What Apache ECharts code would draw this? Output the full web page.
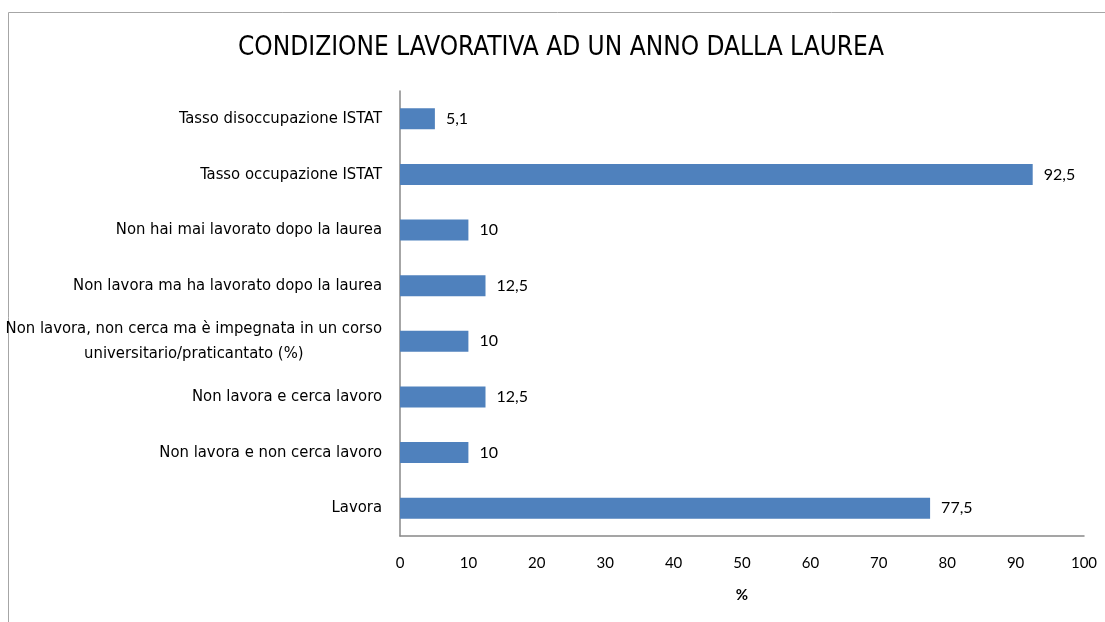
<!DOCTYPE html>
<html>
<head>
<meta charset="utf-8">
<script src="https://cdn.jsdelivr.net/npm/echarts@6/dist/echarts.min.js"></script>
<style>
html,body{margin:0;padding:0;background:#fff;}
#chart{width:1105px;height:622px;}
</style>
</head>
<body>
<div id="chart"></div>
<script>
var titleText = 'CONDIZIONE LAVORATIVA AD UN ANNO DALLA LAUREA';
var categories = [
  'Lavora',
  'Non lavora e non cerca lavoro',
  'Non lavora e cerca lavoro',
  'Non lavora, non cerca ma è impegnata in un corso\nuniversitario/praticantato (%)',
  'Non lavora ma ha lavorato dopo la laurea',
  'Non hai mai lavorato dopo la laurea',
  'Tasso occupazione ISTAT',
  'Tasso disoccupazione ISTAT'
];
var values = [77.5, 10, 12.5, 10, 12.5, 10, 92.5, 5.1];
var axisName = '%';

var narrow = "'Liberation Sans Narrow', 'Arial Narrow', 'DejaVu Sans Condensed', sans-serif";
var numFont = "Lato, 'Open Sans', sans-serif";

var chart = echarts.init(document.getElementById('chart'), null, {renderer: 'canvas'});
chart.setOption({
  backgroundColor: '#fff',
  animation: false,
  graphic: [{
    type: 'rect',
    shape: {x: 8.5, y: 12.5, width: 1200, height: 800},
    style: {fill: 'none', stroke: '#a6a6a6', lineWidth: 1},
    silent: true
  }],
  title: {
    text: titleText,
    left: 233,
    top: 30,
    textStyle: {fontFamily: narrow, fontSize: 26, fontWeight: 'normal', color: '#000'}
  },
  grid: {left: 400, right: 21, top: 91, bottom: 86, containLabel: false, outerBoundsMode: 'none'},
  xAxis: {
    type: 'value',
    min: 0, max: 100, interval: 10,
    name: axisName,
    nameLocation: 'middle',
    nameGap: 52,
    nameTextStyle: {fontFamily: numFont, fontSize: 15, fontWeight: 'bold', color: '#000'},
    axisLine: {show: true, lineStyle: {color: '#888', width: 1.5}},
    axisTick: {show: false},
    splitLine: {show: false},
    axisLabel: {fontFamily: numFont, fontSize: 15, color: '#000', margin: 20}
  },
  yAxis: {
    type: 'category',
    data: categories,
    axisLine: {show: true, lineStyle: {color: '#888', width: 1.5}},
    axisTick: {show: false},
    axisLabel: {
      margin: 18,
      align: 'right',
      formatter: function (v) { return '{c|' + v.split('\n').join('}\n{c|') + '}'; },
      rich: {c: {align: 'center', fontFamily: narrow, fontSize: 16.5, color: '#000', lineHeight: 25}}
    }
  },
  series: [{
    type: 'bar',
    data: values,
    barWidth: 21,
    itemStyle: {color: '#4F81BD'},
    label: {
      show: true,
      position: 'right',
      distance: 11,
      fontFamily: numFont,
      fontSize: 16,
      color: '#000',
      formatter: function (p) { return String(p.value).replace('.', ','); }
    }
  }]
});
</script>
</body>
</html>
